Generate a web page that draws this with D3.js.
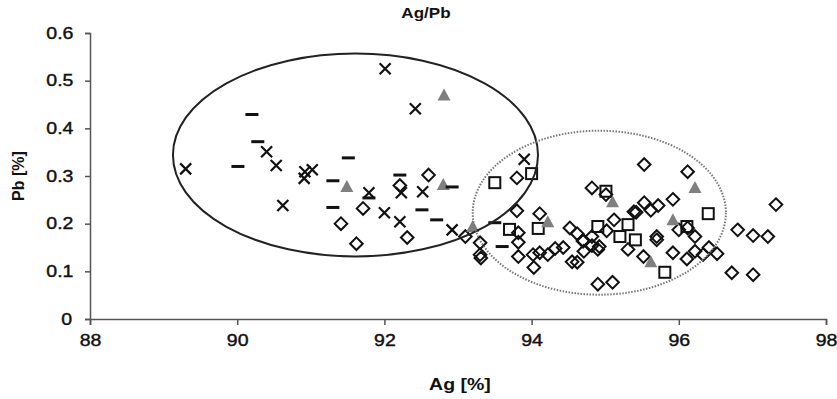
<!DOCTYPE html>
<html>
<head>
<meta charset="utf-8">
<script src="https://cdn.jsdelivr.net/npm/d3@7"></script>
<style>
  body { margin: 0; background: #fff; }
  text { font-family: "Liberation Sans", Arial, sans-serif; fill: #111; }
  .wide { transform-box: fill-box; transform-origin: center; transform: scaleX(1.22); }
</style>
</head>
<body>
<div id="chart"></div>
<script>
// tick labels
var xTicks = [88, 90, 92, 94, 96, 98];
var yTicks = [0, 0.1, 0.2, 0.3, 0.4, 0.5, 0.6];

// series, [Ag %, Pb %]
var diamonds = [
  [92.6, 0.302], [92.21, 0.28], [91.71, 0.232], [91.41, 0.2], [91.62, 0.158], [92.31, 0.171],
  [93.8, 0.296], [93.8, 0.227], [94.11, 0.221], [93.1, 0.173], [93.3, 0.16], [93.3, 0.135],
  [93.31, 0.128], [93.82, 0.181], [93.82, 0.161], [93.82, 0.131], [94.02, 0.135], [94.03, 0.108],
  [94.11, 0.139], [94.22, 0.135], [94.32, 0.148], [94.43, 0.15], [94.52, 0.191], [94.62, 0.179],
  [94.7, 0.165], [94.71, 0.142], [94.62, 0.119], [94.9, 0.073], [95.1, 0.077], [94.82, 0.275],
  [94.82, 0.173], [94.82, 0.154], [94.92, 0.152], [95.02, 0.185], [95.12, 0.208], [95.39, 0.225],
  [95.01, 0.261], [95.53, 0.324], [96.12, 0.309], [95.53, 0.244], [95.72, 0.238], [95.92, 0.251],
  [95.42, 0.224], [95.62, 0.228], [94.9, 0.146], [95.31, 0.146], [95.52, 0.131], [95.7, 0.173],
  [95.7, 0.166], [95.92, 0.139], [96.0, 0.187], [96.12, 0.191], [96.22, 0.173], [96.22, 0.142],
  [96.11, 0.126], [96.33, 0.135], [96.41, 0.15], [96.52, 0.137], [96.8, 0.187], [97.01, 0.175],
  [97.21, 0.173], [97.32, 0.24], [96.72, 0.097], [97.01, 0.093], [94.55, 0.12], [94.7, 0.163]
];
var squares = [
  [93.5, 0.286], [94.0, 0.305], [93.7, 0.188], [94.09, 0.19], [95.01, 0.268], [96.4, 0.221],
  [95.31, 0.198], [94.9, 0.194], [95.2, 0.173], [95.41, 0.166], [96.11, 0.194], [95.81, 0.098]
];
var triangles = [
  [92.81, 0.47], [91.49, 0.278], [92.8, 0.282], [93.2, 0.194], [94.22, 0.204],
  [95.1, 0.246], [96.22, 0.276], [95.92, 0.208], [95.62, 0.12]
];
var crosses = [
  [89.3, 0.315], [90.4, 0.351], [90.53, 0.322], [90.92, 0.309], [91.02, 0.313], [90.91, 0.295],
  [90.62, 0.238], [91.79, 0.265], [92.01, 0.525], [92.42, 0.441], [92.23, 0.265], [92.52, 0.267],
  [92.0, 0.223], [92.21, 0.204], [92.92, 0.187], [93.9, 0.335]
];
var dashes = [
  [90.2, 0.429], [90.28, 0.372], [90.01, 0.32], [91.51, 0.338], [91.3, 0.29], [91.3, 0.234],
  [91.79, 0.254], [92.21, 0.302], [92.51, 0.229], [92.71, 0.208], [92.92, 0.277], [93.5, 0.202],
  [93.6, 0.152]
];

// group outlines: [centre Ag, centre Pb, half-width Ag, half-height Pb]
var groupA = [91.607, 0.344, 2.48, 0.2128];
var groupB = [94.92, 0.223, 1.72, 0.172];

var vMargin = { mTop: 33, mRight: 11, mBottom: 80, mLeft: 90 },
    vWidth = 837 - vMargin.mLeft - vMargin.mRight,
    vHeight = 399 - vMargin.mTop - vMargin.mBottom;

var svg = d3.select("#chart").append("svg")
    .attr("width", 837).attr("height", 399);
var g = svg.append("g")
    .attr("transform", "translate(" + vMargin.mLeft + "," + vMargin.mTop + ")");

var x = d3.scaleLinear().domain([88, 98]).range([0, vWidth]);
var y = d3.scaleLinear().domain([0, 0.6]).range([vHeight, 0]);

// axes
var xAxis = g.append("g")
    .attr("transform", "translate(0," + vHeight + ")")
    .call(d3.axisBottom(x).tickValues(xTicks).tickSize(6).tickPadding(10).tickFormat(d3.format("d")));
var yAxis = g.append("g")
    .call(d3.axisLeft(y).tickValues(yTicks).tickSize(5).tickPadding(14)
      .tickFormat(function (d) { return d === 0 ? "0" : d3.format(".1f")(d); }));
[xAxis, yAxis].forEach(function (a) {
  a.select(".domain").attr("stroke", "#555").attr("stroke-width", 1.5);
  a.selectAll(".tick line").attr("stroke", "#555").attr("stroke-width", 1.5);
  a.selectAll(".tick text").attr("class", "wide")
    .style("font-size", "16px").style("fill", "#111")
    .style("stroke", "#111").style("stroke-width", 0.4);
});

// markers
function diamondPath(s) { return "M0," + (-s) + "L" + s + ",0L0," + s + "L" + (-s) + ",0Z"; }
function place(d) { return "translate(" + x(d[0]) + "," + y(d[1]) + ")"; }

g.selectAll(".dia").data(diamonds).enter().append("path")
    .attr("class", "dia")
    .attr("d", diamondPath(6.3))
    .attr("transform", place)
    .attr("fill", "none").attr("stroke", "#111").attr("stroke-width", 2);

g.selectAll(".sq").data(squares).enter().append("rect")
    .attr("class", "sq")
    .attr("x", -5.5).attr("y", -5.5).attr("width", 11).attr("height", 11)
    .attr("transform", place)
    .attr("fill", "none").attr("stroke", "#111").attr("stroke-width", 2);

g.selectAll(".tri").data(triangles).enter().append("path")
    .attr("class", "tri")
    .attr("d", "M0,-6.5L6.5,5.5L-6.5,5.5Z")
    .attr("transform", place)
    .attr("fill", "#7f7f7f");

g.selectAll(".cr").data(crosses).enter().append("path")
    .attr("class", "cr")
    .attr("d", "M-5.5,-5.5L5.5,5.5M-5.5,5.5L5.5,-5.5")
    .attr("transform", place)
    .attr("stroke", "#111").attr("stroke-width", 2.2);

g.selectAll(".da").data(dashes).enter().append("path")
    .attr("class", "da")
    .attr("d", "M-6.5,0L6.5,0")
    .attr("transform", place)
    .attr("stroke", "#111").attr("stroke-width", 3);

// group ellipses
function drawGroup(p, dotted) {
  var e = g.append("ellipse")
      .attr("cx", x(p[0])).attr("cy", y(p[1]))
      .attr("rx", x(p[0] + p[2]) - x(p[0]))
      .attr("ry", y(p[1] - p[3]) - y(p[1]))
      .attr("fill", "none");
  if (dotted) {
    e.attr("stroke", "#777").attr("stroke-width", 2).attr("stroke-dasharray", "1.5,1.5");
  } else {
    e.attr("stroke", "#222").attr("stroke-width", 2);
  }
}
drawGroup(groupA, false);
drawGroup(groupB, true);

// titles
svg.append("text")
    .attr("x", 426).attr("y", 18)
    .attr("text-anchor", "middle")
    .attr("class", "wide")
    .style("font-size", "14px").style("font-weight", "bold")
    .text("Ag/Pb");
svg.append("text")
    .attr("x", vMargin.mLeft + vWidth / 2 + 2).attr("y", 390)
    .attr("text-anchor", "middle")
    .attr("class", "wide")
    .style("font-size", "16px").style("font-weight", "bold")
    .text("Ag [%]");
svg.append("text")
    .attr("transform", "translate(24," + (vMargin.mTop + vHeight / 2) + ") rotate(-90)")
    .attr("text-anchor", "middle")
    .style("font-size", "16px").style("font-weight", "bold")
    .text("Pb [%]");
</script>
</body>
</html>
